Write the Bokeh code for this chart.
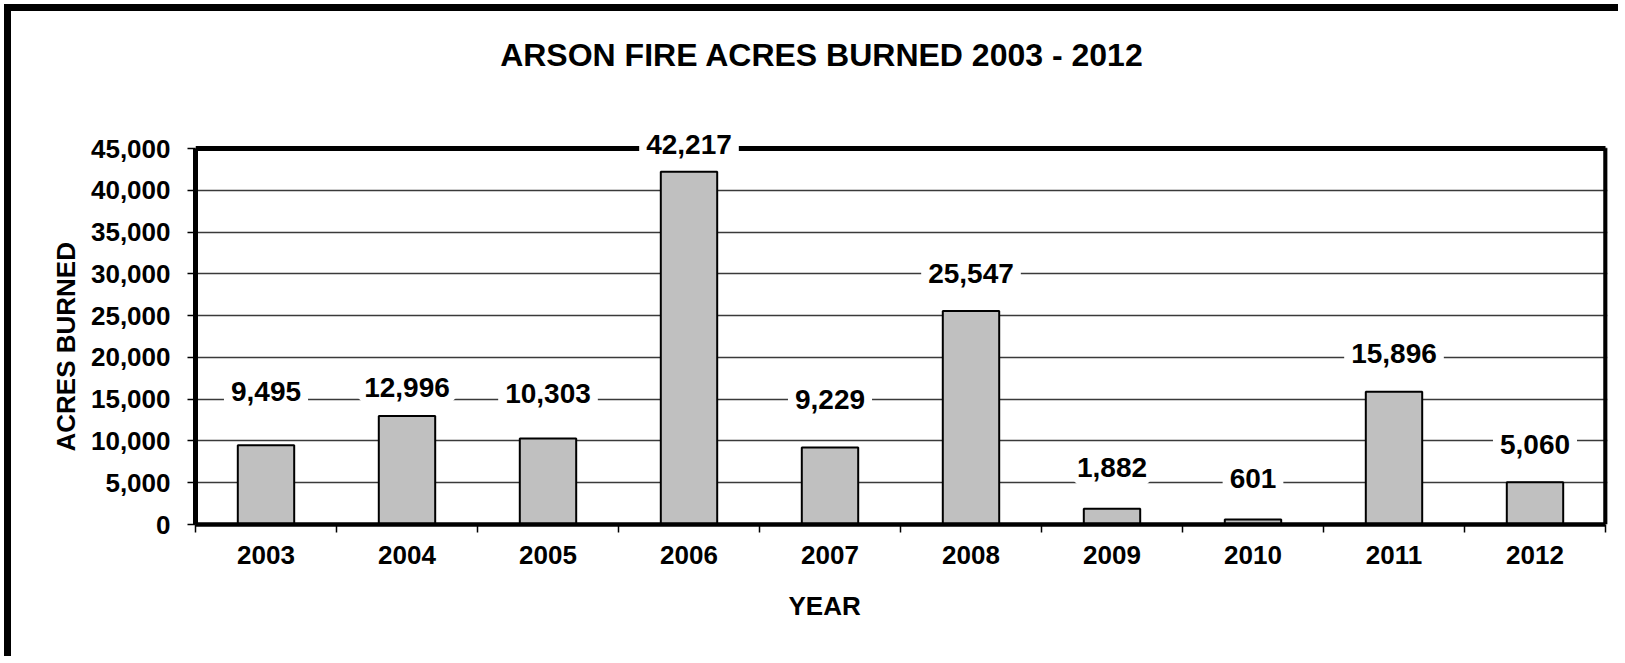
from bokeh.plotting import figure
from bokeh.models import (ColumnDataSource, LabelSet, Label, Range1d, FixedTicker,
                          NumeralTickFormatter, Title)
from bokeh.core.properties import value
from bokeh.embed import file_html
from bokeh.resources import INLINE

# ---- data ----
years = ["2003", "2004", "2005", "2006", "2007", "2008", "2009", "2010", "2011", "2012"]
acres = [9495, 12996, 10303, 42217, 9229, 25547, 1882, 601, 15896, 5060]
# vertical centre of each data label (in acres units, as placed in the original)
label_y = [15917, 16396, 15678, 45478, 14960, 30038, 6822, 5505, 20464, 9574]
y_ticks = [0, 5000, 10000, 15000, 20000, 25000, 30000, 35000, 40000, 45000]
y_max = 45000
title_text = "ARSON FIRE ACRES BURNED 2003 - 2012"

FONT = "Liberation Sans"

# geometry (pixels)
W, H = 1614, 652
LEFT, BOTTOM = 184, 139
PLOT_H = 376            # height of the 0..45000 plot area
PLOT_W = 1410           # width of the 10 category slots
EXTRA_TOP = H - BOTTOM - PLOT_H   # white area above the plot area (holds the title)
EXTRA_RIGHT = 2
TITLE_CX, TITLE_CY = 626.5, 43    # title centre: px right of plot left, px from top

n = len(years)
xs = [i + 0.5 for i in range(n)]
units_per_px_y = y_max / PLOT_H
units_per_px_x = n / PLOT_W
y_end = y_max + EXTRA_TOP * units_per_px_y
x_end = n + EXTRA_RIGHT * units_per_px_x

src = ColumnDataSource(dict(x=xs, top=acres, ly=label_y,
                            txt=["{:,}".format(v) for v in acres]))

p = figure(width=W, height=H, output_backend="svg", toolbar_location=None,
           x_range=Range1d(0, x_end), y_range=Range1d(0, y_end),
           min_border_left=LEFT, min_border_bottom=BOTTOM,
           min_border_right=W - LEFT - PLOT_W - EXTRA_RIGHT,
           min_border_top=0)
p.styles = {"border-left": "7px solid black", "border-top": "7px solid black",
            "margin-left": "4px", "margin-top": "4px"}

p.background_fill_color = "white"
p.border_fill_color = "white"
p.outline_line_color = None

# plot-area frame (top and right edges)
p.segment(x0=[0, n], y0=[y_max, 0], x1=[n, n], y1=[y_max, y_max],
          line_color="black", line_width=[5, 4.5])

p.vbar(x="x", top="top", width=0.4, source=src, fill_color="#C0C0C0",
       line_color="black", line_width=2)

# axes
xax = p.xaxis[0]
xax.bounds = (0, n)
xax.ticker = FixedTicker(ticks=xs, minor_ticks=list(range(n + 1)))
xax.major_label_overrides = {x: y for x, y in zip(xs, years)}
xax.major_tick_line_color = None
xax.major_tick_out = 8
xax.major_tick_in = 0
xax.minor_tick_line_color = "black"
xax.minor_tick_line_width = 1.5
xax.minor_tick_out = 8
xax.minor_tick_in = 0
xax.axis_line_width = 4.5
xax.axis_line_color = "black"
xax.major_label_standoff = 13
xax.major_label_text_font = FONT
xax.major_label_text_font_style = "bold"
xax.major_label_text_font_size = "26px"
xax.major_label_text_color = "black"

yax = p.yaxis[0]
yax.bounds = (0, y_max)
yax.ticker = FixedTicker(ticks=y_ticks, minor_ticks=[])
yax.formatter = NumeralTickFormatter(format="0,0")
yax.major_tick_line_color = "black"
yax.major_tick_line_width = 1.5
yax.major_tick_out = 8
yax.major_tick_in = 0
yax.minor_tick_line_color = None
yax.axis_line_width = 5
yax.axis_line_color = "black"
yax.major_label_standoff = 17
yax.major_label_text_font = FONT
yax.major_label_text_font_style = "bold"
yax.major_label_text_font_size = "26px"
yax.major_label_text_color = "black"

p.xgrid.visible = False
p.ygrid.ticker = FixedTicker(ticks=y_ticks)
p.ygrid.grid_line_color = "#3a3a3a"
p.ygrid.grid_line_width = 1.4

labels = LabelSet(x="x", y="ly", text="txt", source=src, text_align="center",
                  text_baseline="middle", text_font=value(FONT),
                  text_font_style="bold", text_font_size="28px", text_color="black",
                  background_fill_color="white",
                  border_line_color="white", border_line_width=14,
                  level="overlay")
p.add_layout(labels)

# chart title (inside the white area above the plot) and axis titles
p.add_layout(Label(x=TITLE_CX * units_per_px_x,
                   y=y_end - TITLE_CY * units_per_px_y,
                   text=title_text, text_align="center", text_baseline="middle",
                   text_font=FONT, text_font_style="bold", text_font_size="32px",
                   text_color="black"))

p.add_layout(Title(text="YEAR", align="left", offset=593, standoff=44,
                   text_font=FONT, text_font_style="bold", text_font_size="26px",
                   text_color="black"), "below")
p.add_layout(Title(text="ACRES BURNED", align="left", offset=73, standoff=14,
                   text_font=FONT, text_font_style="bold", text_font_size="26px",
                   text_color="black"), "left")

open("out.html", "w").write(file_html(p, INLINE))
